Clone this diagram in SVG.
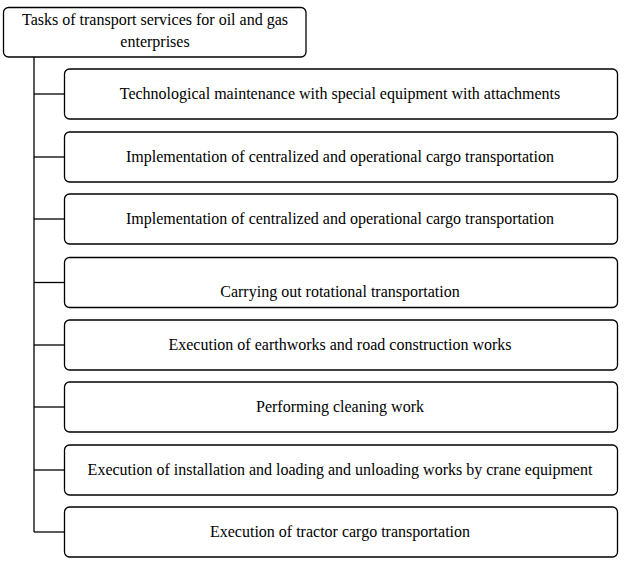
<svg xmlns="http://www.w3.org/2000/svg" width="625" height="566" viewBox="0 0 625 566">
<style>
.box{fill:#fff;stroke:#000;stroke-width:1.3}
.c{stroke:#000;stroke-width:1.3;fill:none}
</style>
<rect width="625" height="566" fill="#fff"/>
<g id="connectors">
<line class="c" x1="34" y1="57" x2="34" y2="532"/>
<line class="c" x1="34" y1="94" x2="64.5" y2="94"/>
<line class="c" x1="34" y1="157" x2="64.5" y2="157"/>
<line class="c" x1="34" y1="219" x2="64.5" y2="219"/>
<line class="c" x1="34" y1="282.5" x2="64.5" y2="282.5"/>
<line class="c" x1="34" y1="345" x2="64.5" y2="345"/>
<line class="c" x1="34" y1="407" x2="64.5" y2="407"/>
<line class="c" x1="34" y1="470" x2="64.5" y2="470"/>
<line class="c" x1="34" y1="532" x2="64.5" y2="532"/>
</g>
<g font-family="Liberation Serif, DejaVu Serif, serif" font-size="16" text-anchor="middle" fill="#000">
<g id="root">
<rect class="box" x="3.5" y="7.5" width="302.5" height="49.5" rx="5"/>
<text x="155" y="25">Tasks of transport services  for oil and gas</text>
<text x="155" y="47">enterprises</text>
</g>
<g id="n1">
<rect class="box" x="64.5" y="69" width="553" height="50" rx="5"/>
<text x="340" y="98.5">Technological maintenance with special equipment with attachments</text>
</g>
<g id="n2">
<rect class="box" x="64.5" y="132" width="553" height="50" rx="5"/>
<text x="340" y="161.5">Implementation of centralized and operational cargo transportation</text>
</g>
<g id="n3">
<rect class="box" x="64.5" y="194" width="553" height="50" rx="5"/>
<text x="340" y="223.5">Implementation of centralized and operational cargo transportation</text>
</g>
<g id="n4">
<rect class="box" x="64.5" y="257.5" width="553" height="50" rx="5"/>
<text x="340" y="296.5">Carrying out rotational transportation</text>
</g>
<g id="n5">
<rect class="box" x="64.5" y="320" width="553" height="50" rx="5"/>
<text x="340" y="349.5">Execution of earthworks and road construction works</text>
</g>
<g id="n6">
<rect class="box" x="64.5" y="382" width="553" height="50" rx="5"/>
<text x="340" y="411.5">Performing cleaning work</text>
</g>
<g id="n7">
<rect class="box" x="64.5" y="445" width="553" height="50" rx="5"/>
<text x="340" y="474.5">Execution of installation and loading and unloading works by crane equipment</text>
</g>
<g id="n8">
<rect class="box" x="64.5" y="507" width="553" height="50" rx="5"/>
<text x="340" y="536.5">Execution of tractor cargo transportation</text>
</g>
</g>
</svg>
